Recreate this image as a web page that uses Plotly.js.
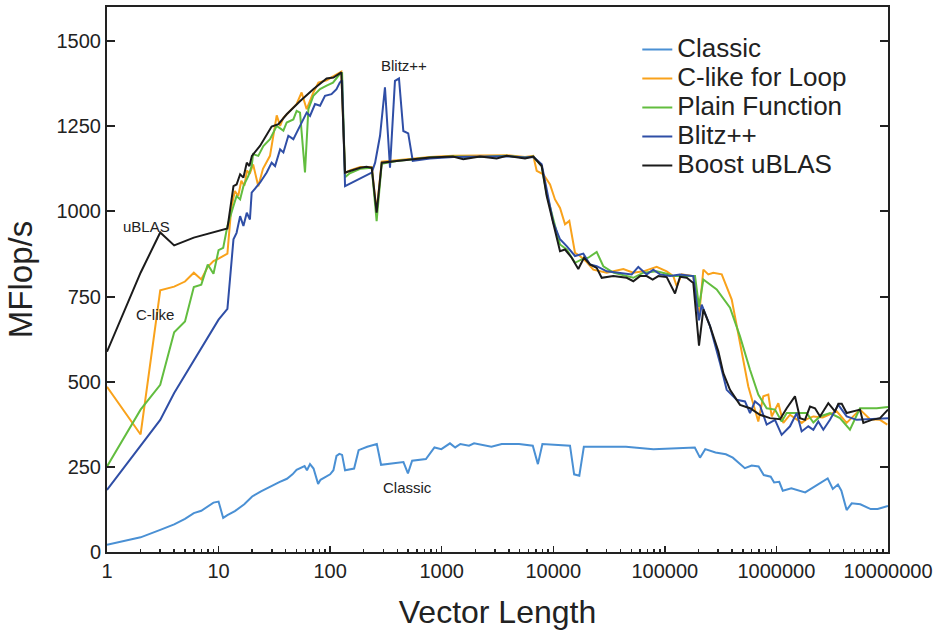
<!DOCTYPE html>
<html><head><meta charset="utf-8">
<script src="https://cdn.plot.ly/plotly-3.0.1.min.js"></script>
<style>html,body{margin:0;padding:0;background:#fff}#chart{width:938px;height:633px}</style>
</head><body><div id="chart"></div>
<script>
const seriesNames = ["Classic", "C-like for Loop", "Plain Function", "Blitz++", "Boost uBLAS"];

const classicX = [1,2,3,4,5,6,7,8,9,10,11,12,14,17,20,24,29,35,41,46,50,55,59,62,66,71,78,82,88,94,100,107,114,121,128,136,150,164,180,215,262,286,454,498,543,722,861,993,1186,1321,1468,1757,1950,2788,3450,4930,6550,7280,7990,14120,15380,17110,18790,31330,44770,78890,185500,206500,230000,284400,352400,406400,521000,600000,692000,770000,889000,953000,1060000,1140000,1360000,1810000,2240000,2490000,2880000,3200000,3560000,3820000,4260000,4730000,5650000,7000000,8070000,10000000];
const classicY = [21,43,65,81,97,114,121,133,145,148,100,108,120,140,163,178,192,205,215,228,241,248,252,240,258,245,200,212,218,222,228,240,282,288,285,240,243,245,299,309,317,256,264,231,268,273,307,302,319,307,317,312,319,309,317,317,312,258,317,312,228,224,309,309,309,302,307,277,302,292,287,277,246,254,251,226,221,204,206,180,187,175,194,201,216,185,198,180,123,143,140,126,126,135];

const clikeX = [1,2,3,4,5,6,7,8,9,10,12,13,14,15,16,17,18,19,20.4,22.7,25,28.9,33.2,35.6,38.1,42,50,55.5,61.6,70.7,78.5,93,114,126,136,150,186,236,261,290,395,785,1262,2204,3820,5580,6620,7100,8140,9350,10360,11490,12740,13920,15660,17350,19930,22840,30110,42430,52150,64120,84460,103900,119100,127700,141600,179900,190000,202300,221300,245000,271800,323400,397500,471700,559600,687800,762700,845800,907000,1040000,1153000,1323000,1683000,1867000,2142000,2600000,3470000,4260000,5610000,6900000,8480000,9860000];
const clikeY = [485,345,768,779,794,820,800,837,854,861,876,1010,1060,1045,1090,1075,1120,1110,1138,1074,1125,1163,1282,1251,1275,1290,1315,1349,1300,1349,1378,1385,1403,1410,1112,1120,1130,1130,1000,1146,1150,1160,1163,1163,1165,1160,1163,1119,1109,1079,1035,1010,962,972,878,869,851,829,820,831,820,824,837,824,810,780,815,810,760,690,829,815,820,815,741,614,486,383,457,462,398,437,379,403,379,390,398,395,413,379,418,390,388,374];

const plainX = [1,2,3,4,5,6,7,8,9,10,11,12,13.6,14.5,15.6,16.7,18.5,19.8,20.4,22.7,25.2,28.9,33.2,38.1,40.8,46.8,50.1,53.7,59.5,63.8,70.7,81.2,93,106,122,128,136,150,186,236,261,290,395,785,1262,2204,3820,5580,6620,7870,8730,10000,11490,13190,15660,17970,20610,24490,28080,34510,45480,52150,64120,84460,103900,119100,186300,202300,221300,291400,383700,471700,579700,687800,817800,971000,1114000,1236000,1520000,1867000,2142000,2459000,3020000,3710000,4560000,5610000,7920000,10000000];
const plainY = [251,418,491,645,677,778,785,844,817,886,893,957,1016,1045,1035,1074,1104,1133,1168,1163,1192,1212,1251,1237,1261,1270,1295,1290,1114,1300,1339,1359,1369,1378,1403,1405,1100,1112,1125,1128,971,1140,1148,1158,1161,1160,1163,1158,1161,1133,1050,975,903,888,849,859,864,881,839,820,810,805,820,824,817,810,810,720,800,771,717,633,535,462,422,418,383,408,408,408,380,398,408,393,359,422,422,426];

const blitzX = [1,2,3,4,5,6,8,10,12,13.6,14.5,15.6,16.7,17.9,19.1,19.8,23.5,27,29.9,32.1,35.6,38.1,42.2,46.8,53.7,61.6,66,73.2,81.2,89.9,102.8,114,122,128,136,236,253,280,310,344,381,414,453,501,550,785,1262,2204,3820,5580,6620,7870,9020,10000,11490,13190,15660,18590,21340,24490,30110,39630,50450,57810,68710,78720,90570,111200,136700,179900,190000,202300,213900,253900,312000,358300,440500,522700,579700,642500,712300,817800,971000,1114000,1323000,1520000,1683000,1931000,2142000,2373000,2632000,3020000,3590000,4260000,5240000,6900000,10000000];
const blitzY = [182,310,388,467,520,565,633,682,714,918,937,986,957,996,976,1055,1084,1114,1143,1133,1182,1173,1222,1212,1251,1290,1280,1315,1310,1339,1344,1359,1378,1385,1074,1114,1143,1222,1364,1128,1383,1390,1236,1229,1148,1155,1160,1160,1162,1158,1160,1138,1035,967,918,898,869,876,844,839,824,820,815,837,815,829,815,810,815,810,750,680,726,663,555,476,447,442,408,442,430,374,388,344,369,408,354,369,359,383,359,388,432,398,388,390,393];

const boostX = [1,2,3,4,6,12,13.6,14.5,15.6,16.7,17.9,18.9,19.9,23.5,29.9,34.4,40.8,53.9,71,93,107,126,136,150,186,212,236,261,290,395,785,1262,1560,2204,3110,3820,5580,6620,7870,8730,10000,11490,12740,14620,16760,18850,21340,24490,27160,34510,45480,52150,59840,68710,77790,87340,103900,123300,136700,157000,179900,190000,202300,221300,253900,301500,334300,383700,471700,579700,712300,875500,1077000,1236000,1466000,1627000,1803000,2000000,2217000,2459000,2917000,3350000,3590000,3850000,4260000,5610000,6010000,7140000,8480000,10000000];
const boostY = [588,820,938,900,923,950,1074,1079,1109,1099,1143,1133,1163,1192,1249,1256,1285,1324,1359,1390,1393,1408,1114,1119,1128,1131,1128,996,1143,1148,1158,1161,1153,1161,1155,1163,1155,1161,1133,1045,967,883,888,864,831,864,844,834,805,810,805,795,810,810,800,810,807,759,808,805,790,700,606,712,663,589,525,476,432,422,403,393,390,422,457,393,388,427,422,398,437,413,435,435,408,418,379,388,393,418];

const xTickVals = [1,10,100,1000,10000,100000,1000000,10000000];
const xTickText = ["1","10","100","1000","10000","100000","1000000","10000000"];
const yTickVals = [0,250,500,750,1000,1250,1500];

const colors = ["#4a90d4", "#f9a21b", "#62bd3f", "#2f4ea6", "#1b1b1b"];
const xs = [classicX, clikeX, plainX, blitzX, boostX];
const ys = [classicY, clikeY, plainY, blitzY, boostY];

const traces = seriesNames.map((n, i) => ({
  type: "scatter", mode: "lines",
  name: '<span style="font-size:26px">' + n + '</span>',
  x: xs[i], y: ys[i],
  line: {color: colors[i], width: 2}
}));

const minorVals = [];
for (let d = 0; d < 7; d++) for (let k = 2; k <= 9; k++) minorVals.push(k * Math.pow(10, d));

const FONT = "Liberation Sans, Arial, Helvetica, sans-serif";
const annFont = {size: 15, color: "#222"};
const layout = {
  width: 938, height: 633,
  margin: {l: 107, r: 50, t: 7, b: 81},
  paper_bgcolor: "#fff", plot_bgcolor: "#fff",
  font: {family: FONT, color: "#222"},
  showlegend: true,
  legend: {x: 0.679, y: 0.958, xanchor: "left", yanchor: "top", font: {size: 20, color: "#222"}, bgcolor: "rgba(0,0,0,0)", itemwidth: 30},
  xaxis: {
    type: "log", range: [0, 7], tickmode: "array", tickvals: xTickVals, ticktext: xTickText,
    ticks: "inside", ticklen: 6, tickwidth: 1.5, tickcolor: "#222",
    showline: true, linecolor: "#222", linewidth: 2, mirror: true,
    showgrid: false, zeroline: false,
    tickfont: {size: 20, color: "#222"},
    minor: {tickmode: "array", tickvals: minorVals, ticks: "inside", ticklen: 3, tickwidth: 1.5, tickcolor: "#222", showgrid: false},
    title: {text: "Vector Length", font: {size: 32, color: "#222"}, standoff: 20}
  },
  yaxis: {
    range: [0, 1600], tickmode: "array", tickvals: yTickVals,
    ticks: "inside", ticklen: 8, tickwidth: 2, tickcolor: "#222",
    showline: true, linecolor: "#222", linewidth: 2, mirror: "ticks",
    showgrid: false, zeroline: false,
    tickfont: {size: 20, color: "#222"},
    title: {text: "MFlop/s", font: {size: 33, color: "#222"}, standoff: 14}
  },
  annotations: [
    {text: "uBLAS", x: 0.051, y: 0.598, xref: "paper", yref: "paper", xanchor: "center", yanchor: "middle", showarrow: false, font: annFont},
    {text: "C-like", x: 0.0615, y: 0.435, xref: "paper", yref: "paper", xanchor: "center", yanchor: "middle", showarrow: false, font: annFont},
    {text: "Blitz++", x: 0.380, y: 0.892, xref: "paper", yref: "paper", xanchor: "center", yanchor: "middle", showarrow: false, font: annFont},
    {text: "Classic", x: 0.385, y: 0.119, xref: "paper", yref: "paper", xanchor: "center", yanchor: "middle", showarrow: false, font: annFont}
  ]
};

Plotly.newPlot("chart", traces, layout, {displayModeBar: false, staticPlot: true});
</script></body></html>
